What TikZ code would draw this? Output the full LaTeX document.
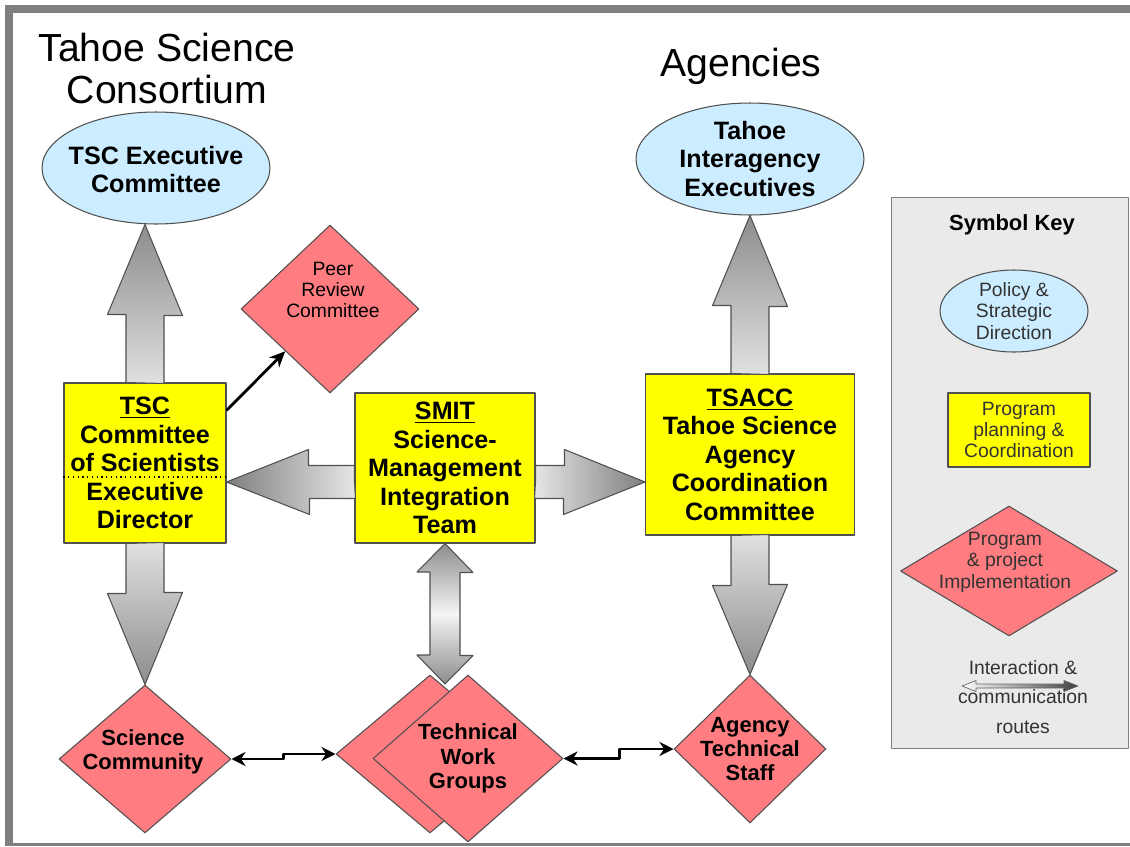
\documentclass[tikz,border=0pt]{standalone}
\usepackage{fontspec}
\setmainfont{Liberation Sans}
\usetikzlibrary{shapes.geometric,arrows.meta,calc}

\begin{document}
\begin{tikzpicture}[x=0.02cm, y=-0.02cm, line join=round,
  heading/.style={align=center, font=\fontsize{22.3}{24.4}\selectfont},
  policy/.style={ellipse, draw=linegray, line width=0.6pt, fill=skyblue, inner sep=0pt,
    minimum width=4.56cm, minimum height=2.24cm},
  plan/.style={rectangle, draw=linegray, line width=0.6pt, fill=planyellow, inner sep=0pt,
    align=center, font=\bfseries\fontsize{14.3}{16.2}\selectfont},
  impl/.style={diamond, draw=linegray, line width=0.6pt, fill=implred, inner sep=0pt},
  ovaltext/.style={align=center, font=\bfseries\fontsize{14.3}{16.4}\selectfont},
  dlabel/.style={align=center, font=\bfseries\fontsize{12.5}{13.9}\selectfont},
  smalltext/.style={align=center, font=\fontsize{11}{12.2}\selectfont},
  keytext/.style={smalltext, text=black!80},
  blockarrow/.style={draw=linegray, line width=0.6pt},
  route/.style={line width=1.6pt, {Stealth[length=8pt,width=8pt]}-{Stealth[length=8pt,width=8pt]}}]
  \definecolor{linegray}{RGB}{80,80,80}
  \definecolor{skyblue}{RGB}{204,236,255}
  \definecolor{planyellow}{RGB}{255,255,0}
  \definecolor{implred}{RGB}{255,124,128}
  \definecolor{keygray}{RGB}{234,234,234}
  \definecolor{framegray}{RGB}{128,128,128}
  \useasboundingbox (0,0) rectangle (1130,846);

  % frame
  \fill[framegray] (5,5) rectangle (1130,13);
  \fill[framegray] (5,5) rectangle (13,846);
  \fill[framegray] (5,843) rectangle (1130,846);

  \node[heading] (tsc-title) at (167,68.5) {Tahoe Science\\Consortium};
  \node[heading] (ag-title) at (741,66) {Agencies};

  % policy level
  \node[policy] (tscexec) at (156,168) {};
  \node[ovaltext] (tscexec-t) at ($(tscexec)+(0,1.5)$) {TSC Executive\\Committee};
  \node[policy] (tie) at (750,159) {};
  \node[ovaltext] (tie-t) at (tie) {Tahoe\\Interagency\\Executives};

  % planning and coordination
  \node[plan, minimum width=3.24cm, minimum height=3.2cm] (tscbox) at (145,463)
    {\underline{TSC}\\Committee\\of Scientists\\Executive\\Director};
  \coordinate (split) at (145,477);
  \draw[dotted, line width=0.7pt] (tscbox.west |- split) -- (tscbox.east |- split);
  \node[plan, minimum width=3.6cm, minimum height=3cm] (smit) at (445,468)
    {\underline{SMIT}\\Science-\\Management\\Integration\\Team};
  \node[plan, minimum width=4.18cm, minimum height=3.22cm] (tsacc) at (750,454.5)
    {\underline{TSACC}\\Tahoe Science\\Agency\\Coordination\\Committee};

  % implementation
  \node[impl, minimum width=3.56cm, minimum height=3.36cm] (peer) at (330,309) {};
  \node[smalltext] (peer-t) at ($(peer)+(3,-19)$) {Peer\\Review\\Committee};
  \node[impl, minimum width=3.44cm, minimum height=2.96cm] (scicom) at (145,759) {};
  \node[dlabel] (scicom-t) at ($(scicom)+(-2,-7)$) {Science\\Community};
  \node[impl, minimum width=3.76cm, minimum height=3.16cm] (twgback) at (430,754) {};
  \node[impl, minimum width=3.8cm, minimum height=3.34cm] (twg) at (468,758.5) {};
  \node[dlabel] (twg-t) at (twg) {Technical\\Work\\Groups};
  \node[impl, minimum width=3.04cm, minimum height=2.96cm] (agency) at (750,749) {};
  \node[dlabel] (agency-t) at (agency) {Agency\\Technical\\Staff};

  % block arrows
  \shade[blockarrow, top color=black!45, bottom color=black!12]
    ($(tscbox.north)+(-19,0)$) -- ++(0,-68) -- ++(-18.5,0) -- (tscbox.north |- tscexec.south)
    -- ++(37.5,91) -- ++(-18.5,0) -- ++(0,68) -- cycle;
  \shade[blockarrow, top color=black!12, bottom color=black!45]
    ($(tscbox.south)+(-19,0)$) -- ++(0,50) -- ++(-18.5,0) -- (scicom.north)
    -- ++(37.5,-92) -- ++(-18.5,0) -- ++(0,-50) -- cycle;
  \shade[blockarrow, top color=black!45, bottom color=black!12]
    ($(tsacc.north)+(-19,0)$) -- ++(0,-68) -- ++(-18.5,0) -- (tie.south)
    -- ++(37.5,91) -- ++(-18.5,0) -- ++(0,68) -- cycle;
  \shade[blockarrow, top color=black!12, bottom color=black!45]
    ($(tsacc.south)+(-19,0)$) -- ++(0,50) -- ++(-18.5,0) -- (agency.north)
    -- ++(37.5,-90) -- ++(-18.5,0) -- ++(0,-50) -- cycle;
  \coordinate (midline) at (445,482);
  \shade[blockarrow, left color=black!50, right color=black!10]
    (smit.west |- midline) -- ++(0,-16.5) -- ++(-46,0) -- ++(0,-16) -- (tscbox.east |- midline)
    -- ++(83,32.5) -- ++(0,-16) -- ++(46,0) -- cycle;
  \shade[blockarrow, left color=black!10, right color=black!50]
    (smit.east |- midline) -- ++(0,-16.5) -- ++(29,0) -- ++(0,-16) -- (tsacc.west |- midline)
    -- ++(-81.5,32.5) -- ++(0,-16) -- ++(-29,0) -- cycle;
  \coordinate (notch) at (445,684);
  \shade[blockarrow, top color=black!45, bottom color=black!45, middle color=black!4]
    (smit.south) -- ++(28,29) -- ++(-13,0) -- ++(0,83) -- ++(13,0) -- (notch)
    -- ++(-28,-29) -- ++(13,0) -- ++(0,-83) -- ++(-13,0) -- cycle;

  % thin links
  \draw[line width=1.6pt, -{Stealth[length=9pt,width=8pt]}]
    ($(tscbox.north east)+(0,28)$) -- (peer.south west);
  \draw[route] (scicom.east) -- ++(52,0) |- (twgback.west);
  \draw[route] (twg.east) -- ++(56,0) |- (agency.west);

  % symbol key
  \node[draw=black!50, fill=keygray, minimum width=4.74cm, minimum height=11.02cm] (keybox) at (1009.5,472.5) {};
  \node[font=\bfseries\fontsize{12.5}{14}\selectfont] (key-title) at (1012,225) {Symbol Key};
  \node[policy, minimum width=2.96cm, minimum height=1.64cm] (key-policy) at (1014,311) {};
  \node[keytext] (key-policy-t) at (key-policy) {Policy \&\\Strategic\\Direction};
  \node[plan, keytext, minimum width=2.84cm, minimum height=1.48cm] (key-plan) at (1019,430)
    {Program\\planning \&\\Coordination};
  \node[impl, minimum width=4.34cm, minimum height=2.6cm] (key-impl) at (1009,571) {};
  \node[keytext] (key-impl-t) at ($(key-impl)+(-4,-9)$) {Program\\\& project\\Implementation};
  \shade[left color=white, right color=black!75, draw=black!60, line width=0.4pt]
    (962,686) -- ++(14,-5.5) -- ++(0,3.5) -- ++(88,0) -- ++(0,-3.5) -- ++(14,5.5)
    -- ++(-14,5.5) -- ++(0,-3.5) -- ++(-88,0) -- ++(0,3.5) -- cycle;
  \node[keytext, font=\fontsize{11}{17}\selectfont] (key-route-t) at (1023,697)
    {Interaction \&\\communication\\routes};
\end{tikzpicture}
\end{document}
